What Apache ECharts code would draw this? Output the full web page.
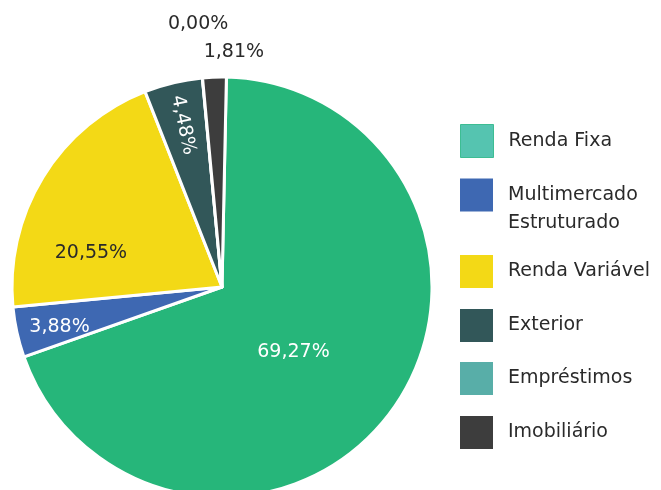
<!DOCTYPE html>
<html><head><meta charset="utf-8">
<script src="https://cdn.jsdelivr.net/npm/echarts@6/dist/echarts.min.js"></script>
<style>html,body{margin:0;padding:0;background:#fff}#c{width:661px;height:490px}</style>
</head><body><div id="c"></div>
<script>
const categories = ['Renda Fixa', 'Multimercado Estruturado', 'Renda Variável', 'Exterior', 'Empréstimos', 'Imobiliário'];
const legendLabels = ['Renda Fixa', '\nMultimercado\nEstruturado', 'Renda Variável', 'Exterior', 'Empréstimos', 'Imobiliário'];
const values = [69.27, 3.88, 20.55, 4.48, 0.00, 1.81];
const sliceColors = ['#26b67a', '#3e68b2', '#f3d916', '#325759', '#58aea8', '#3d3d3d'];
const legendColors = ['#55c4b0', '#3e68b2', '#f3d916', '#325759', '#58aea8', '#3d3d3d'];

const labelStyles = [
  { position: 'inside', color: '#ffffff', offset: [-16, 2] },
  { position: 'inside', color: '#ffffff', offset: [-57, 17] },
  { position: 'inside', color: '#2a2a2a', offset: [-39, 23] },
  { position: 'inside', color: '#ffffff', rotate: -78, offset: [-58.5, 1.8] },
  { position: 'outside', color: '#2a2a2a', offset: [32, -42] },
  { position: 'outside', color: '#2a2a2a', offset: [55, -13] }
];

const fmt = v => v.toFixed(2).replace('.', ',') + '%';

const data = categories.map((n, i) => ({
  name: n,
  value: values[i],
  itemStyle: { color: sliceColors[i] },
  label: labelStyles[i],
  labelLine: { show: false, length: 12, length2: 0 }
}));

const legendTops = [124, 153, 255, 309, 362, 416];
const legends = categories.map((n, i) => ({
  orient: 'vertical',
  left: 460,
  top: legendTops[i],
  padding: 0,
  itemWidth: 33,
  itemHeight: 33,
  selectedMode: false,
  icon: 'rect',
  data: [{ name: n, itemStyle: i === 0 ? { color: legendColors[i], borderColor: '#3dbd93', borderWidth: 1 } : { color: legendColors[i], borderWidth: 0 } }],
  formatter: () => legendLabels[i],
  textStyle: {
    fontFamily: 'DejaVu Sans', fontSize: 19, color: '#2a2a2a',
    lineHeight: 28,
    padding: [0, 0, 0, 10]
  }
}));

const chart = echarts.init(document.getElementById('c'));
chart.setOption({
  animation: false,
  legend: legends,
  series: [{
    type: 'pie',
    center: [222, 287],
    radius: 210,
    startAngle: 88.8,
    clockwise: true,
    minAngle: 0.05,
    minShowLabelAngle: -1,
    avoidLabelOverlap: false,
    stillShowZeroSum: true,
    itemStyle: { borderColor: '#ffffff', borderWidth: 3 },
    label: {
      fontFamily: 'DejaVu Sans', fontSize: 19,
      formatter: p => fmt(p.value)
    },
    emphasis: { disabled: true },
    data: data
  }]
});
</script></body></html>
